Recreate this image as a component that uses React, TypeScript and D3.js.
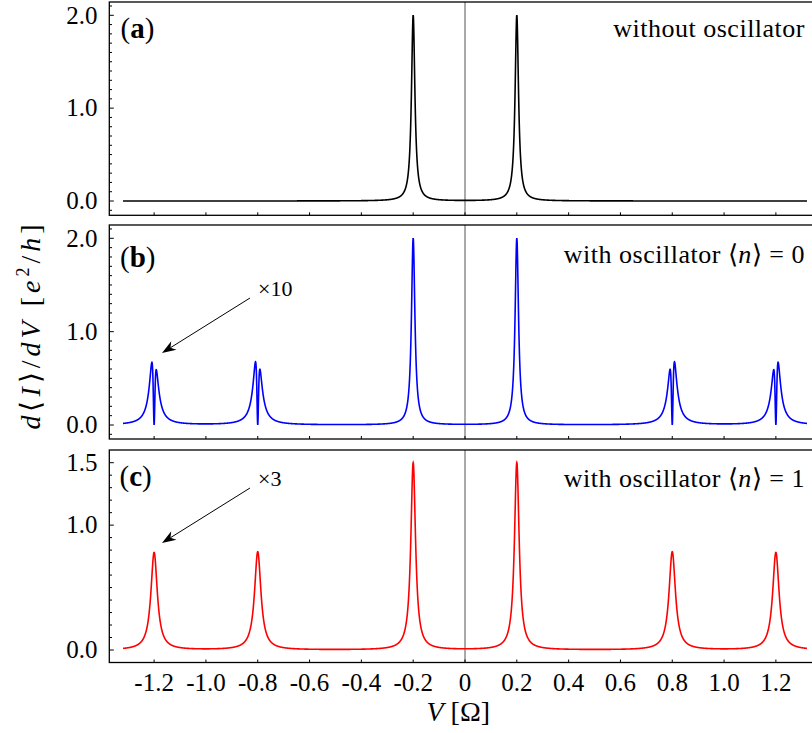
import React from "react";
import * as d3 from "d3";

// ---- data ----
const voltageRange = [-1.32, 1.32];
const voltageStep = 0.0005;

// panel (a): without oscillator
const peakCentersA = [-0.2, 0.2];
const peakHeightsA = [2.0, 2.0];
const peakWidthsA = [0.008, 0.008];
const notchWidthsA = [0, 0];
const peakShiftsA = [0, 0];

// panel (b): with oscillator <n>=0 (side peaks shown x10)
const peakCentersB = [-1.2, -0.8, -0.2, 0.2, 0.8, 1.2];
const peakHeightsB = [1.16, 1.17, 2.0, 2.0, 1.17, 1.16];
const peakWidthsB = [0.014, 0.014, 0.008, 0.008, 0.014, 0.014];
const notchWidthsB = [0.005, 0.005, 0, 0, 0.005, 0.005];
const peakShiftsB = [-0.001, -0.001, 0, 0, 0.001, 0.001];

// panel (c): with oscillator <n>=1 (side peaks shown x3)
const peakCentersC = [-1.2, -0.8, -0.2, 0.2, 0.8, 1.2];
const peakHeightsC = [0.78, 0.785, 1.5, 1.5, 0.785, 0.78];
const peakWidthsC = [0.015, 0.015, 0.011, 0.011, 0.015, 0.015];
const notchWidthsC = [0, 0, 0, 0, 0, 0];
const peakShiftsC = [0, 0, 0, 0, 0, 0];

const xTickValues = [-1.2, -1.0, -0.8, -0.6, -0.4, -0.2, 0, 0.2, 0.4, 0.6, 0.8, 1.0, 1.2];
const xTickLabels = ["-1.2", "-1.0", "-0.8", "-0.6", "-0.4", "-0.2", "0", "0.2", "0.4", "0.6", "0.8", "1.0", "1.2"];
const yTicksA = [0, 1, 2];
const yTickLabelsA = ["0.0", "1.0", "2.0"];
const yTicksB = [0, 1, 2];
const yTickLabelsB = ["0.0", "1.0", "2.0"];
const yTicksC = [0, 1, 1.5];
const yTickLabelsC = ["0.0", "1.0", "1.5"];

// ---- helpers ----
function peakSum(v: number, c: number[], h: number[], w: number[], n: number[], s: number[]) {
  let sum = 0;
  for (let i = 0; i < c.length; i++) {
    const d = v - (c[i] + s[i]);
    let val = (h[i] * w[i] * w[i]) / (d * d + w[i] * w[i]);
    if (n[i] > 0) {
      const dn = v - c[i];
      val *= (dn * dn) / (dn * dn + n[i] * n[i]);
    }
    sum += val;
  }
  return sum;
}

function buildSeries(c: number[], h: number[], w: number[], n: number[], s: number[]) {
  const count = Math.round((voltageRange[1] - voltageRange[0]) / voltageStep);
  const pts: [number, number][] = [];
  for (let k = 0; k <= count; k++) {
    const v = voltageRange[0] + k * voltageStep;
    pts.push([v, peakSum(v, c, h, w, n, s)]);
  }
  return pts;
}

const W = 812;
const H = 733;
const FONT = "'Liberation Serif', 'Times New Roman', serif";

const x = d3.scaleLinear().domain([-1.373, 1.373]).range([109.3, 820.7]);

type Panel = {
  id: string;
  top: number;
  bottom: number;
  y: d3.ScaleLinear<number, number>;
  minorFrom: number;
  minorTo: number;
  ticks: number[];
  tickLabels: string[];
  color: string;
  data: [number, number][];
};

const panels: Panel[] = [
  {
    id: "a",
    top: 2,
    bottom: 215.3,
    y: d3.scaleLinear().domain([0, 2]).range([201, 15.3]),
    minorFrom: -1,
    minorTo: 21,
    ticks: yTicksA,
    tickLabels: yTickLabelsA,
    color: "#000000",
    data: buildSeries(peakCentersA, peakHeightsA, peakWidthsA, notchWidthsA, peakShiftsA),
  },
  {
    id: "b",
    top: 225,
    bottom: 439,
    y: d3.scaleLinear().domain([0, 2]).range([425, 238.3]),
    minorFrom: -1,
    minorTo: 21,
    ticks: yTicksB,
    tickLabels: yTickLabelsB,
    color: "#0000ff",
    data: buildSeries(peakCentersB, peakHeightsB, peakWidthsB, notchWidthsB, peakShiftsB),
  },
  {
    id: "c",
    top: 450,
    bottom: 662.5,
    y: d3.scaleLinear().domain([0, 1.5]).range([650, 462.7]),
    minorFrom: 0,
    minorTo: 15,
    ticks: yTicksC,
    tickLabels: yTickLabelsC,
    color: "#ff0000",
    data: buildSeries(peakCentersC, peakHeightsC, peakWidthsC, notchWidthsC, peakShiftsC),
  },
];

function Arrow({ x1, y1, x2, y2 }: { x1: number; y1: number; x2: number; y2: number }) {
  const dx = x2 - x1;
  const dy = y2 - y1;
  const len = Math.hypot(dx, dy);
  const ux = dx / len;
  const uy = dy / len;
  const px = -uy;
  const py = ux;
  const L = 14;
  const hw = 5;
  const notch = 10;
  const bx = x2 - ux * L;
  const by = y2 - uy * L;
  const nx = x2 - ux * notch;
  const ny = y2 - uy * notch;
  const head = `M${x2},${y2} L${bx + px * hw},${by + py * hw} L${nx},${ny} L${bx - px * hw},${by - py * hw} Z`;
  return (
    <g>
      <line x1={x1} y1={y1} x2={nx} y2={ny} stroke="#000" strokeWidth={1} />
      <path d={head} fill="#000" />
    </g>
  );
}

export default function App() {
  const x0 = x.range()[0];
  const x1 = x.range()[1];
  return (
    <svg
      width={W}
      height={H}
      viewBox={`0 0 ${W} ${H}`}
      style={{ position: "absolute", left: 0, top: 0, display: "block", background: "#fff" }}
      fontFamily={FONT}
    >
      <defs>
        {panels.map((p) => (
          <clipPath id={`clip-${p.id}`} key={p.id}>
            <rect x={x0} y={p.top} width={x1 - x0} height={p.bottom - p.top} />
          </clipPath>
        ))}
      </defs>
      {panels.map((p) => {
        const line = d3
          .line<[number, number]>()
          .x((d) => x(d[0]))
          .y((d) => p.y(d[1]));
        const minor = d3.range(p.minorFrom, p.minorTo + 1).map((k) => k / 10);
        return (
          <g key={p.id}>
            {/* zero line */}
            <line x1={x(0)} x2={x(0)} y1={p.top} y2={p.bottom} stroke="#555" strokeWidth={1} />
            <path d={line(p.data) || ""} fill="none" stroke={p.color} strokeWidth={1.6} clipPath={`url(#clip-${p.id})`} />
            {/* y ticks */}
            {minor.map((t) => {
              const yy = p.y(t);
              if (yy <= p.top + 0.5 || yy >= p.bottom - 0.5) return null;
              const major = p.ticks.some((m) => Math.abs(m - t) < 1e-6);
              return <line key={t} x1={x0} x2={x0 + (major ? 4.5 : 2.7)} y1={yy} y2={yy} stroke="#000" strokeWidth={1} />;
            })}
            {p.ticks.map((t, i) => (
              <text key={`l${t}`} x={97.5} y={p.y(t)} dy="0.33em" textAnchor="end" fontSize={25} fill="#000">
                {p.tickLabels[i]}
              </text>
            ))}
            {/* x ticks */}
            {xTickValues.map((t) => (
              <line key={`x${t}`} x1={x(t)} x2={x(t)} y1={p.bottom} y2={p.bottom - 3} stroke="#000" strokeWidth={1} />
            ))}
            <rect x={x0} y={p.top} width={x1 - x0} height={p.bottom - p.top} fill="none" stroke="#000" strokeWidth={1.3} />
          </g>
        );
      })}

      {/* x tick labels */}
      {xTickValues.map((t, i) => (
        <text key={`xl${t}`} x={x(t)} y={691} textAnchor="middle" fontSize={25} fill="#000">
          {xTickLabels[i]}
        </text>
      ))}

      {/* panel labels */}
      <text x={120.5} y={38} fontSize={29} fill="#000">
        (<tspan fontWeight="bold">a</tspan>)
      </text>
      <text x={120} y={267} fontSize={29} fill="#000">
        (<tspan fontWeight="bold">b</tspan>)
      </text>
      <text x={119.5} y={486} fontSize={29} fill="#000">
        (<tspan fontWeight="bold">c</tspan>)
      </text>

      <text x={805} y={37} textAnchor="end" fontSize={26} letterSpacing={0.5} fill="#000">
        without oscillator
      </text>
      <text x={805} y={263} textAnchor="end" fontSize={26} letterSpacing={0.5} fill="#000">
        with oscillator ⟨<tspan fontStyle="italic">n</tspan>⟩ = 0
      </text>
      <text x={805} y={487} textAnchor="end" fontSize={26} letterSpacing={0.5} fill="#000">
        with oscillator ⟨<tspan fontStyle="italic">n</tspan>⟩ = 1
      </text>

      {/* scale annotations */}
      <text x={258} y={296} fontSize={22} fill="#000">×10</text>
      <Arrow x1={250} y1={298} x2={162} y2={353} />
      <text x={258} y={486} fontSize={22} fill="#000">×3</text>
      <Arrow x1={250} y1={488} x2={162} y2={543} />

      {/* axis titles */}
      <text x={426.5} y={721} fontSize={28} fill="#000">
        <tspan fontStyle="italic">V</tspan> [Ω]
      </text>
      <text
        transform="translate(40,327) rotate(-90)"
        textAnchor="middle"
        fontSize={28}
        fill="#000"
        textLength={205}
        lengthAdjust="spacing"
      >
        <tspan fontStyle="italic">d</tspan>⟨<tspan fontStyle="italic">I</tspan>⟩/<tspan fontStyle="italic">dV</tspan> [<tspan fontStyle="italic">e</tspan>
        <tspan fontSize={18} dy={-11}>2</tspan>
        <tspan dy={11}>/</tspan>
        <tspan fontStyle="italic">h</tspan>]
      </text>
    </svg>
  );
}
